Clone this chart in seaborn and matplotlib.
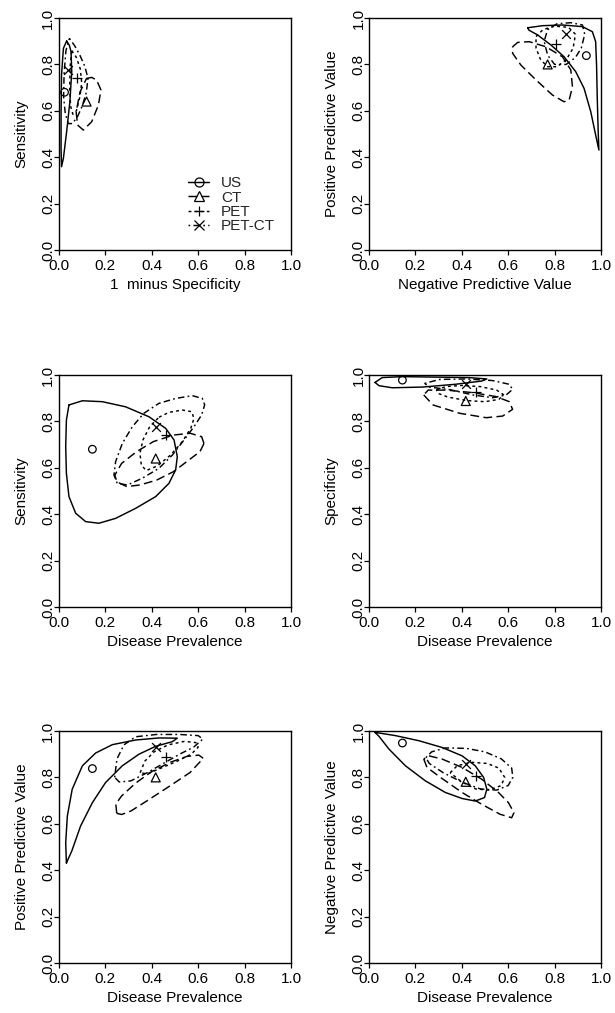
import matplotlib
matplotlib.use("Agg")
import matplotlib.pyplot as plt
import seaborn as sns
from matplotlib.lines import Line2D

sns.set_style("ticks")
plt.rcParams['font.family'] = ['Liberation Sans', 'DejaVu Sans']

tests = ['US', 'CT', 'PET', 'PET-CT']
tick_vals = [0.0, 0.2, 0.4, 0.6, 0.8, 1.0]
tick_labels = ['0.0', '0.2', '0.4', '0.6', '0.8', '1.0']

# point estimates, order: US, CT, PET, PET-CT
prev = [0.144, 0.417, 0.462, 0.417]
sens = [0.68, 0.64, 0.74, 0.777]
spec = [0.978, 0.888, 0.926, 0.96]
fpr = [0.024, 0.119, 0.076, 0.037]
ppv = [0.838, 0.80, 0.886, 0.932]
npv = [0.948, 0.781, 0.804, 0.857]
npv_top = [0.937, 0.770, 0.805, 0.851]

# confidence contours, (x, y) pairs
# panel 1: 1 - specificity vs sensitivity
p1_us = [(0.033, 0.901), (0.045, 0.882), (0.052, 0.855), (0.055, 0.769), (0.047, 0.639),
         (0.033, 0.510), (0.019, 0.395), (0.011, 0.359), (0.009, 0.438), (0.009, 0.582),
         (0.011, 0.754), (0.019, 0.869)]
p1_ct = [(0.119, 0.740), (0.141, 0.744), (0.162, 0.733), (0.181, 0.690), (0.170, 0.625),
         (0.141, 0.553), (0.105, 0.517), (0.080, 0.539), (0.074, 0.596), (0.091, 0.682)]
p1_pet = [(0.055, 0.86), (0.075, 0.83), (0.092, 0.78), (0.098, 0.72), (0.09, 0.66),
          (0.075, 0.60), (0.06, 0.585), (0.05, 0.62), (0.046, 0.70), (0.048, 0.79)]
p1_petct = [(0.045, 0.912), (0.068, 0.88), (0.09, 0.84), (0.112, 0.79), (0.125, 0.74),
            (0.118, 0.68), (0.10, 0.62), (0.08, 0.575), (0.058, 0.545), (0.04, 0.545),
            (0.027, 0.59), (0.02, 0.66), (0.022, 0.76), (0.03, 0.86)]

# panel 2: NPV vs PPV
p2_us = [(0.684, 0.958), (0.748, 0.967), (0.834, 0.970), (0.920, 0.963), (0.963, 0.941),
         (0.977, 0.898), (0.981, 0.797), (0.984, 0.654), (0.988, 0.510), (0.991, 0.431),
         (0.977, 0.496), (0.956, 0.596), (0.927, 0.697), (0.891, 0.769), (0.841, 0.833),
         (0.784, 0.884), (0.727, 0.927), (0.689, 0.948)]
p2_ct = [(0.619, 0.876), (0.641, 0.895), (0.691, 0.898), (0.763, 0.876), (0.834, 0.833),
         (0.870, 0.776), (0.877, 0.704), (0.863, 0.647), (0.841, 0.639), (0.791, 0.668),
         (0.720, 0.733), (0.655, 0.797), (0.619, 0.848)]
p2_pet = [(0.72, 0.92), (0.75, 0.95), (0.80, 0.965), (0.86, 0.96), (0.89, 0.93),
          (0.88, 0.87), (0.85, 0.82), (0.81, 0.79), (0.77, 0.79), (0.74, 0.82), (0.72, 0.87)]
p2_petct = [(0.77, 0.95), (0.81, 0.975), (0.87, 0.98), (0.92, 0.97), (0.93, 0.93),
            (0.915, 0.87), (0.89, 0.83), (0.85, 0.80), (0.80, 0.80), (0.77, 0.84), (0.755, 0.90)]

# panel 3: prevalence vs sensitivity
p3_us = [(0.043, 0.871), (0.101, 0.889), (0.187, 0.885), (0.287, 0.863), (0.388, 0.820),
         (0.460, 0.770), (0.496, 0.720), (0.510, 0.648), (0.503, 0.591), (0.474, 0.533),
         (0.417, 0.476), (0.330, 0.425), (0.244, 0.382), (0.172, 0.361), (0.115, 0.368),
         (0.072, 0.404), (0.043, 0.476), (0.032, 0.576), (0.029, 0.691), (0.032, 0.806)]
p3_ct = [(0.625, 0.705), (0.608, 0.670), (0.550, 0.626), (0.493, 0.583), (0.421, 0.547),
         (0.349, 0.526), (0.292, 0.519), (0.249, 0.540), (0.241, 0.569), (0.270, 0.619),
         (0.335, 0.670), (0.407, 0.713), (0.493, 0.741), (0.565, 0.749), (0.615, 0.734)]
p3_pet = [(0.431, 0.818), (0.474, 0.839), (0.532, 0.849), (0.572, 0.842), (0.582, 0.813),
          (0.568, 0.770), (0.532, 0.713), (0.481, 0.655), (0.424, 0.608), (0.376, 0.588),
          (0.355, 0.612), (0.349, 0.662), (0.362, 0.720), (0.391, 0.777)]
p3_petct = [(0.431, 0.878), (0.503, 0.899), (0.575, 0.911), (0.618, 0.899), (0.628, 0.871),
            (0.615, 0.828), (0.582, 0.777), (0.539, 0.720), (0.489, 0.655), (0.431, 0.598),
            (0.359, 0.555), (0.295, 0.526), (0.251, 0.533), (0.237, 0.569), (0.244, 0.626),
            (0.273, 0.705), (0.316, 0.777), (0.366, 0.835)]

# panel 4: prevalence vs specificity
p4_us = [(0.026, 0.968), (0.057, 0.989), (0.143, 0.993), (0.286, 0.991), (0.429, 0.989),
         (0.508, 0.983), (0.486, 0.974), (0.372, 0.960), (0.229, 0.948), (0.100, 0.945),
         (0.043, 0.954)]
p4_ct = [(0.236, 0.914), (0.276, 0.871), (0.391, 0.835), (0.505, 0.816), (0.576, 0.823),
         (0.619, 0.852), (0.605, 0.885), (0.548, 0.907), (0.448, 0.924), (0.333, 0.935),
         (0.255, 0.935)]
p4_pet = [(0.29, 0.935), (0.33, 0.950), (0.40, 0.955), (0.48, 0.950), (0.55, 0.935),
          (0.58, 0.915), (0.56, 0.895), (0.50, 0.885), (0.42, 0.890), (0.34, 0.905), (0.30, 0.920)]
p4_petct = [(0.240, 0.964), (0.305, 0.981), (0.420, 0.983), (0.533, 0.976), (0.605, 0.960),
            (0.619, 0.938), (0.591, 0.914), (0.533, 0.902), (0.448, 0.914), (0.348, 0.937),
            (0.260, 0.948)]

# panel 5: prevalence vs PPV
p5_us = [(0.032, 0.431), (0.029, 0.518), (0.036, 0.633), (0.057, 0.749), (0.101, 0.850),
         (0.158, 0.905), (0.230, 0.941), (0.330, 0.961), (0.431, 0.970), (0.510, 0.969),
         (0.489, 0.954), (0.417, 0.934), (0.345, 0.900), (0.273, 0.850), (0.201, 0.778),
         (0.144, 0.691), (0.093, 0.590), (0.055, 0.482)]
p5_ct = [(0.249, 0.645), (0.27, 0.640), (0.31, 0.655), (0.378, 0.698), (0.478, 0.763),
         (0.565, 0.821), (0.622, 0.882), (0.603, 0.896), (0.55, 0.89), (0.48, 0.865),
         (0.40, 0.825), (0.33, 0.775), (0.27, 0.72), (0.245, 0.685)]
p5_pet = [(0.35, 0.82), (0.37, 0.87), (0.41, 0.91), (0.47, 0.94), (0.54, 0.955),
          (0.59, 0.95), (0.60, 0.93), (0.57, 0.90), (0.51, 0.87), (0.44, 0.84), (0.38, 0.815)]
p5_petct = [(0.24, 0.80), (0.25, 0.88), (0.28, 0.94), (0.33, 0.975), (0.42, 0.985),
            (0.52, 0.985), (0.60, 0.98), (0.62, 0.965), (0.58, 0.93), (0.52, 0.90),
            (0.45, 0.86), (0.38, 0.82), (0.31, 0.785), (0.26, 0.78)]

# panel 6: prevalence vs NPV
p6_us = [(0.026, 0.994), (0.114, 0.980), (0.215, 0.958), (0.315, 0.929), (0.401, 0.893),
         (0.458, 0.850), (0.494, 0.800), (0.508, 0.749), (0.498, 0.713), (0.458, 0.698),
         (0.401, 0.709), (0.329, 0.735), (0.243, 0.785), (0.157, 0.850), (0.086, 0.922),
         (0.043, 0.977)]
p6_ct = [(0.236, 0.879), (0.250, 0.843), (0.308, 0.800), (0.401, 0.735), (0.486, 0.684),
         (0.565, 0.641), (0.615, 0.626), (0.625, 0.648), (0.601, 0.691), (0.558, 0.735),
         (0.486, 0.792), (0.401, 0.843), (0.315, 0.879), (0.258, 0.893)]
p6_pet = [(0.35, 0.82), (0.38, 0.85), (0.44, 0.865), (0.51, 0.86), (0.56, 0.84),
          (0.585, 0.80), (0.57, 0.765), (0.52, 0.745), (0.46, 0.75), (0.40, 0.78)]
p6_petct = [(0.245, 0.885), (0.27, 0.91), (0.33, 0.927), (0.42, 0.925), (0.50, 0.91),
            (0.57, 0.88), (0.615, 0.84), (0.62, 0.80), (0.60, 0.765), (0.55, 0.745),
            (0.48, 0.75), (0.40, 0.78), (0.32, 0.82), (0.26, 0.86)]

markers = {'US': 'o', 'CT': '^', 'PET': '+', 'PET-CT': 'x'}
lstyles = {'US': '-', 'CT': (0, (6, 3)), 'PET': (0, (2, 2.2)), 'PET-CT': (0, (1.2, 2.2, 4.5, 2.2))}
msize = {'US': 30, 'CT': 42, 'PET': 60, 'PET-CT': 40}


def draw_panel(ax, px, py, contours, xlabel, ylabel):
    for t, cont in zip(tests, contours):
        cx = [p[0] for p in cont] + [cont[0][0]]
        cy = [p[1] for p in cont] + [cont[0][1]]
        sns.lineplot(x=cx, y=cy, sort=False, estimator=None, color='black',
                     lw=1.05, linestyle=lstyles[t], ax=ax)
    for i, t in enumerate(tests):
        if t in ('US', 'CT'):
            sns.scatterplot(x=[px[i]], y=[py[i]], marker=markers[t], s=msize[t],
                            facecolor='none', edgecolor='black', linewidth=0.9, ax=ax)
        else:
            sns.scatterplot(x=[px[i]], y=[py[i]], marker=markers[t], s=msize[t],
                            color='black', linewidth=0.9, ax=ax)
    ax.set_xlim(0, 1)
    ax.set_ylim(0, 1)
    ax.set_xticks(tick_vals)
    ax.set_yticks(tick_vals)
    ax.set_xticklabels(tick_labels)
    ax.set_yticklabels(tick_labels, rotation=90, va='center')
    ax.tick_params(axis='both', direction='out', length=3.6, width=0.9,
                   labelsize=11, color='black', labelcolor='black')
    ax.tick_params(axis='x', pad=2.6)
    ax.tick_params(axis='y', pad=-1.0)
    for sp in ax.spines.values():
        sp.set_visible(True)
        sp.set_color('black')
        sp.set_linewidth(1.0)
    ax.set_xlabel(xlabel, fontsize=11, color='black')
    ax.set_ylabel(ylabel, fontsize=11, color='black')
    ax.xaxis.set_label_coords(0.5, -0.12)
    ax.yaxis.set_label_coords(-0.13, 0.5)


fig = plt.figure(figsize=(6.15, 10.13), dpi=100)
lefts = [0.0959, 0.600]
bottoms = [0.7532, 0.4008, 0.0494]
w, h = 0.3772, 0.229

panels = [
    (fpr, sens, [p1_us, p1_ct, p1_pet, p1_petct], '1  minus Specificity', 'Sensitivity'),
    (npv_top, ppv, [p2_us, p2_ct, p2_pet, p2_petct], 'Negative Predictive Value', 'Positive Predictive Value'),
    (prev, sens, [p3_us, p3_ct, p3_pet, p3_petct], 'Disease Prevalence', 'Sensitivity'),
    (prev, spec, [p4_us, p4_ct, p4_pet, p4_petct], 'Disease Prevalence', 'Specificity'),
    (prev, ppv, [p5_us, p5_ct, p5_pet, p5_petct], 'Disease Prevalence', 'Positive Predictive Value'),
    (prev, npv, [p6_us, p6_ct, p6_pet, p6_petct], 'Disease Prevalence', 'Negative Predictive Value'),
]

axes = []
for k, (px, py, conts, xl, yl) in enumerate(panels):
    ax = fig.add_axes([lefts[k % 2], bottoms[k // 2], w, h])
    draw_panel(ax, px, py, conts, xl, yl)
    axes.append(ax)

handles = []
for t in tests:
    handles.append(Line2D([0], [0], color='black', lw=1.05, linestyle=lstyles[t],
                          marker=markers[t], markersize=6.5, markerfacecolor='none',
                          markeredgecolor='black', markeredgewidth=0.9))
axes[0].legend(handles, tests, loc='upper left', bbox_to_anchor=(0.557, 0.318),
               frameon=False, fontsize=11, handlelength=1.35, handletextpad=0.8,
               labelspacing=0.02, borderpad=0, borderaxespad=0)

fig.savefig('out.png', dpi=100)
